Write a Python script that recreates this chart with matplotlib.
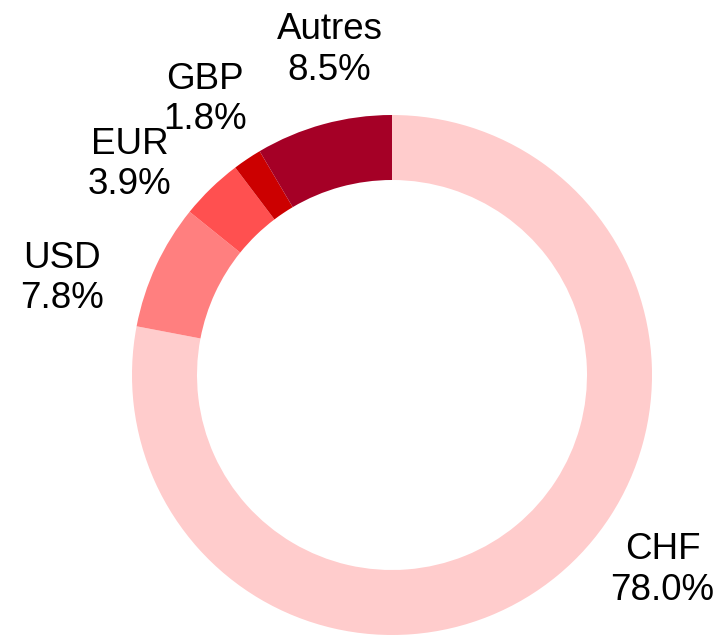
import matplotlib.pyplot as plt

plt.rcParams['font.family'] = ['Liberation Sans', 'DejaVu Sans']

# data
currencies = ['CHF', 'USD', 'EUR', 'GBP', 'Autres']
shares = [78.0, 7.8, 3.9, 1.8, 8.5]
colors = ['#FFCCCC', '#FF7F7F', '#FF5050', '#CC0000', '#A50026']
# label positions relative to pie centre (in units of radius)
label_xy = [(1.04, -0.75), (-1.27, 0.37), (-1.01, 0.81), (-0.72, 1.06), (-0.24, 1.25)]

fig = plt.figure(figsize=(7.21, 6.36), dpi=100)
ax = fig.add_axes([0, 0, 1, 1])

ax.pie(shares, colors=colors, startangle=90, counterclock=False,
       radius=1.0, wedgeprops=dict(width=0.25, linewidth=0))

for name, val, (x, y) in zip(currencies, shares, label_xy):
    ax.text(x, y, f'{name}\n{val:.1f}%', ha='center', va='center',
            fontsize=26.5, linespacing=1.2, color='black')

# pixel-matched view: centre at (392, 375), radius 260 px
ax.set_xlim(-392 / 260, (721 - 392) / 260)
ax.set_ylim(-(636 - 375) / 260, 375 / 260)
ax.set_aspect('equal')
ax.axis('off')

fig.savefig('out.png', dpi=100)
